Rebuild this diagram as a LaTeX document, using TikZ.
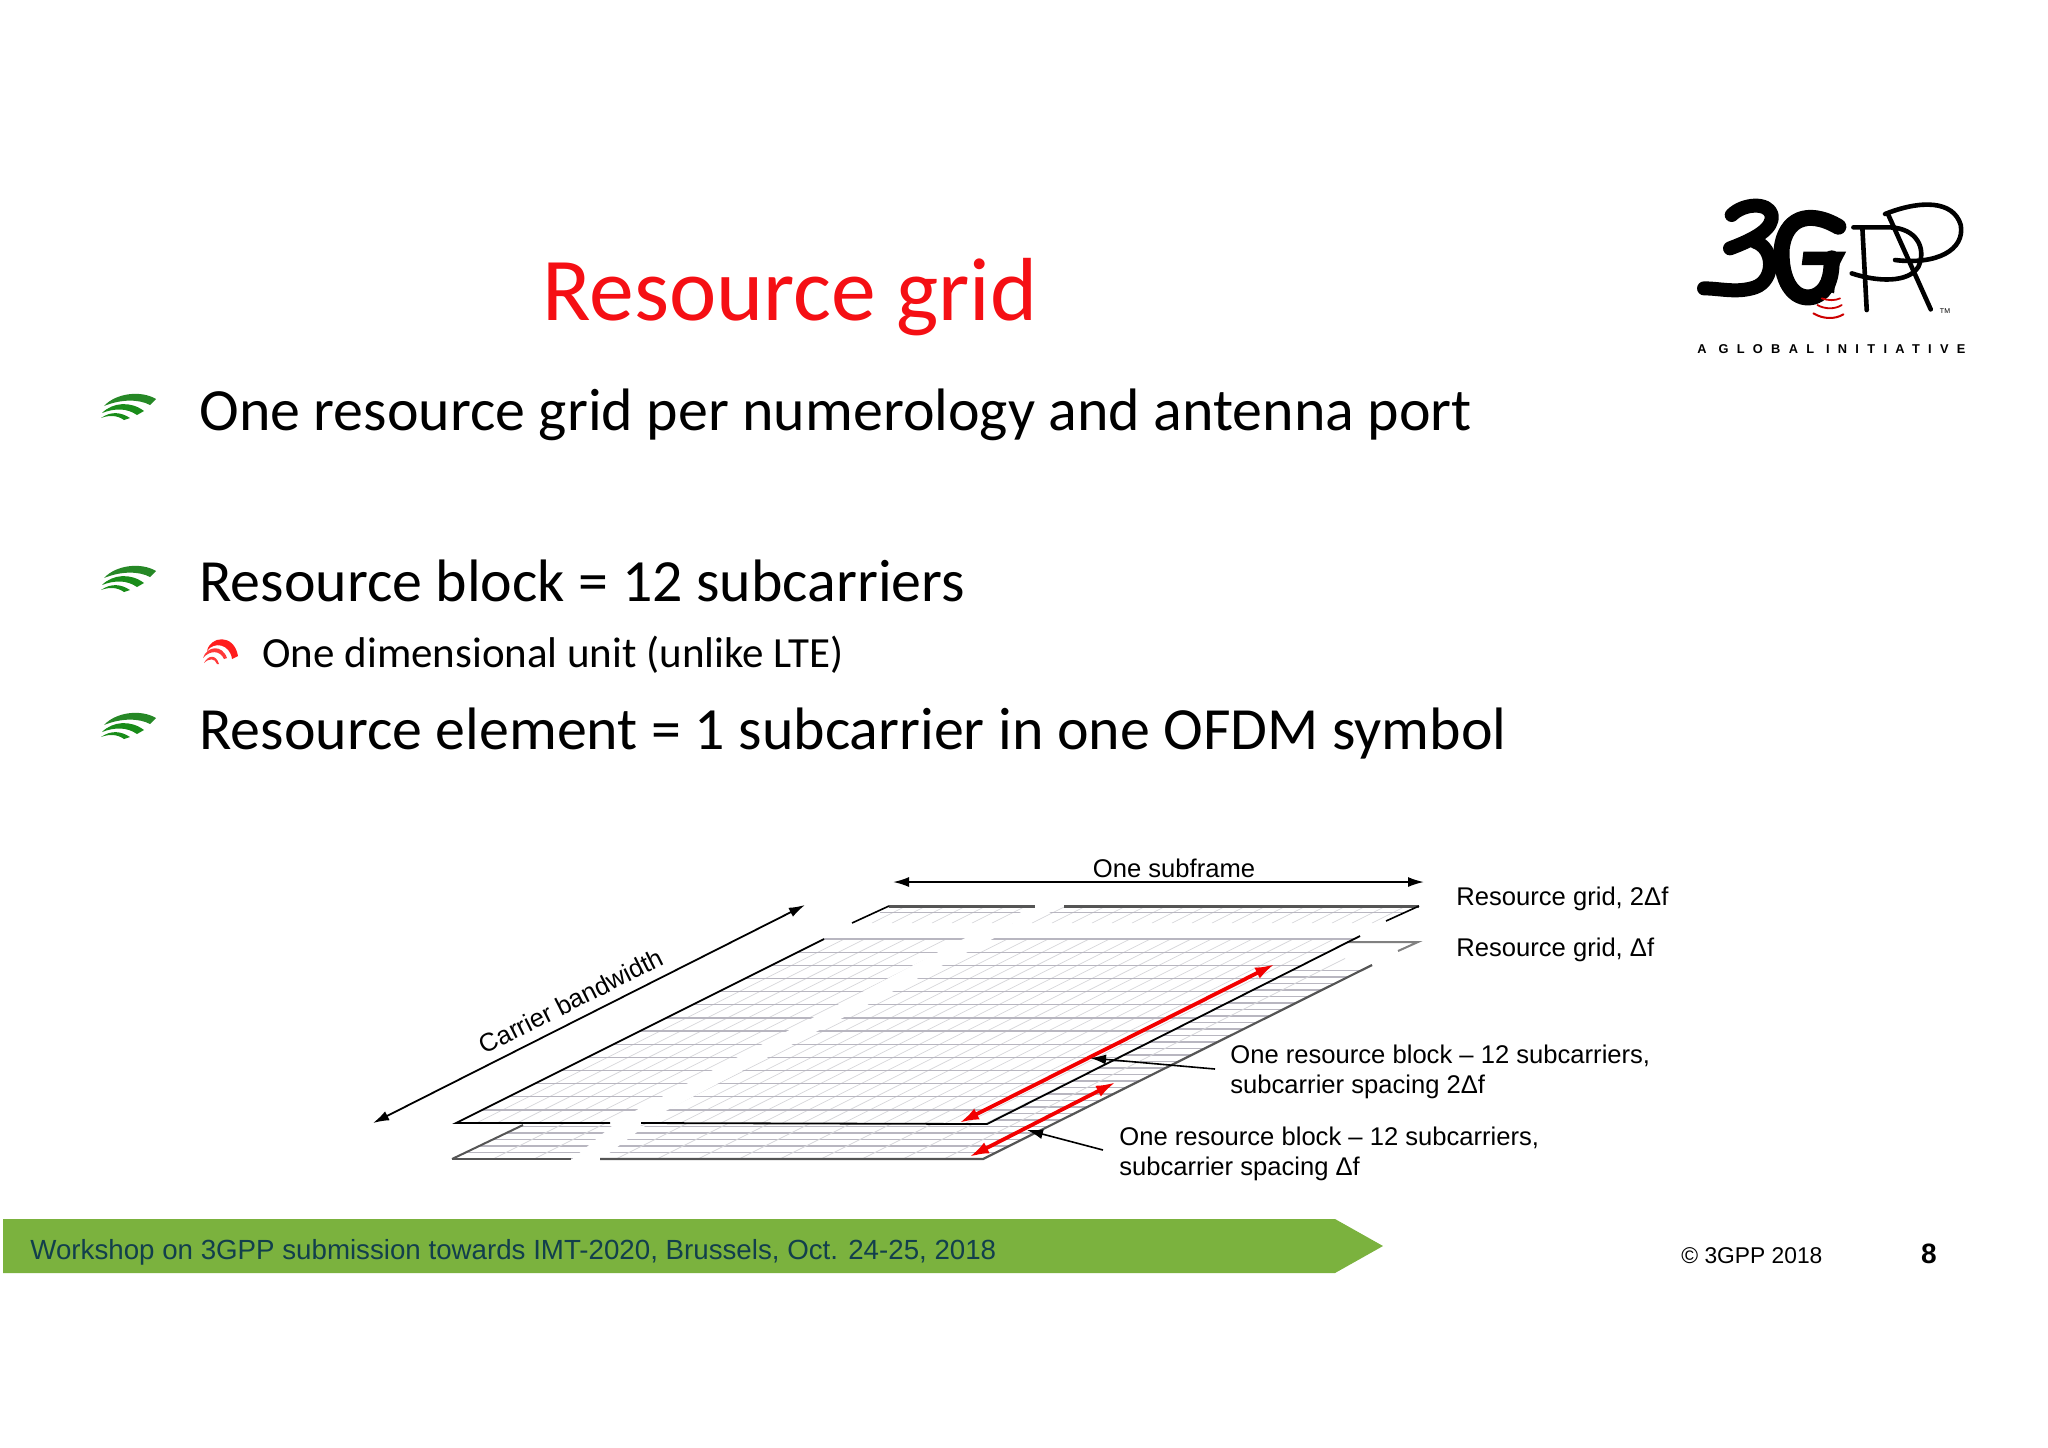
\documentclass[tikz,border=0pt]{standalone}
\usepackage{fontspec}
\usepackage{color}
\setmainfont{Carlito}
\newfontfamily\arialfont{Liberation Sans}
\newfontfamily\logofont[LetterSpace=65]{Liberation Sans Bold}
\usetikzlibrary{calc,arrows.meta}
\definecolor{barGreen}{HTML}{7BB23E}
\definecolor{barText}{HTML}{123F4C}
\definecolor{slideRed}{HTML}{F50F14}
\definecolor{gridRow}{HTML}{B8B6C0}
\definecolor{gridSlant}{HTML}{D6D6DA}
\definecolor{edgeGray}{HTML}{555555}
\tikzset{
  bodytext/.style={anchor=base west,inner sep=0pt,font=\fontsize{29.95}{32}\selectfont},
  labeltext/.style={inner sep=0pt,align=left,font=\fontsize{12.8}{15.2}\selectfont\arialfont},
  blacktips/.style={{Latex[length=8pt,width=5pt]}-{Latex[length=8pt,width=5pt]},line width=0.9pt},
  redtips/.style={{Latex[length=10pt,width=6pt]}-{Latex[length=10pt,width=6pt]},red!95!black,line width=1.9pt},
  pointtip/.style={-{Latex[length=8pt,width=5pt]},line width=0.8pt},
  greenmark/.pic={
    \fill[green!45!black!85] (3,13) .. controls (15,0) and (40,-3) .. (55,6) -- (49,12) .. controls (38,6) and (20,6) .. (3,13);
    \fill[green!50!black!90] (1,20) .. controls (12,9) and (30,8) .. (43,18) -- (36,22) .. controls (26,15) and (14,15) .. (1,20);
    \fill[green!50!black!90] (0,25) .. controls (10,18) and (20,19) .. (29,25) -- (23,27) .. controls (16,22) and (8,22) .. (0,25);
  },
  redmark/.pic={
    \fill[red!85!pink] (5,13) .. controls (8,-2) and (32,-5) .. (36,18) -- (30,21) .. controls (28,6) and (12,3) .. (5,13);
    \fill[red!70!pink] (1,20) .. controls (5,8) and (20,6) .. (25,20) -- (22,21) .. controls (18,12) and (8,12) .. (1,20);
    \fill[red!70!pink] (2,25) .. controls (6,17) and (14,16) .. (17,26) -- (15,26) .. controls (13,20) and (7,20) .. (2,25);
  }
}
\begin{document}
\begin{tikzpicture}[x=0.5pt,y=-0.5pt]
                 \useasboundingbox (0,0) rectangle (2048,1447);
                 \node[anchor=base west,inner sep=0pt,text=slideRed,font=\fontsize{44.8}{48}\selectfont](title)at(542,320){Resource grid};
                 \node[bodytext](first)at(199,430){One resource grid per numerology and antenna port};
                 \node[bodytext](second)at(199,601){Resource block = 12 subcarriers};
                 \node[bodytext,font=\fontsize{21.5}{24}\selectfont](sub)at(262,667){One dimensional unit (unlike LTE)};
                 \node[bodytext](third)at(199,749){Resource element = 1 subcarrier in one OFDM symbol};
                 \pic at (101,393) {greenmark};
                 \pic at (101,565) {greenmark};
                 \pic at (101,712) {greenmark};
                 \pic at (202,638) {redmark};
                 % logo
                 \begin{scope}[shift={(1660,170)},x=0.1667pt,y=-0.1667pt,line cap=round,line join=round]
                   \draw[line width=7pt] (215,135) .. controls (250,100) and (325,95) .. (335,135) .. controls (340,175) and (290,205) .. (210,235);
                   \draw[line width=7pt] (285,215) .. controls (345,235) and (345,330) .. (285,352) .. controls (230,370) and (180,355) .. (132,355);
                   \draw[line width=8pt] (535,170) .. controls (440,115) and (375,150) .. (365,235) .. controls (360,330) and (400,395) .. (460,380) .. controls (505,365) and (515,320) .. (515,265);
                   \fill (430,245) -- (558,245) -- (530,300) -- (522,370) -- (508,365) -- (500,285) -- (425,285) -- cycle;
                   \draw[red!80!black,line width=0.9pt] (485,385) .. controls (505,392) and (525,392) .. (540,385);
                   \draw[red!80!black,line width=0.9pt] (472,405) .. controls (495,418) and (525,418) .. (545,405);
                   \draw[red!80!black,line width=1pt] (460,430) .. controls (490,448) and (525,448) .. (550,433);
                   \draw[line width=2.3pt] (580,172) -- (690,172) .. controls (770,175) and (800,235) .. (775,290) .. controls (745,340) and (650,335) .. (575,310);
                   \draw[line width=2.3pt] (607,175) -- (620,420);
                   \draw[line width=2.3pt] (675,132) .. controls (780,90) and (880,90) .. (902,165) .. controls (915,240) and (830,285) .. (705,270);
                   \draw[line width=2.3pt] (685,135) -- (812,418);
                 \end{scope}
                 \node[inner sep=0pt,font=\fontsize{3.5}{4}\selectfont\arialfont](tm)at(1945,311){TM};
                 \node[anchor=base west,inner sep=0pt,font=\fontsize{6.4}{7}\selectfont\logofont](tagline)at(1697,353){A GLOBAL INITIATIVE};
                 % lower grid
                 \begin{scope}
                   \clip (452,1159) -- (983,1159) -- (1372,965) -- (1345,965) -- (1345,936) -- (824,936) -- (523,1125) -- cycle;
                   \foreach \r in {0,...,29}{
                     \pgfmathsetmacro{\yy}{1159-6.5*\r}
                     \draw[gridRow,line width=0.55pt] ({452+2*(1159-\yy)},\yy) -- ({983+2*(1159-\yy)},\yy);
                   }
                   \foreach \c in {0,...,13}{
                     \draw[gridSlant,line width=0.4pt] ({452+41*\c},1159) -- ({452+41*\c+434},942);
                   }
                 \end{scope}
                 \fill[white] (571,1160) -- (600,1160) -- (645,1126) -- (612,1126) -- cycle;
                 % upper grid
                 \fill[white] (456,1123) -- (987,1124) -- (1360,936) -- (824,939) -- cycle;
                 \begin{scope}
                   \clip (456,1124) -- (987,1124) -- (1360,937) -- (824,937) -- cycle;
                   \foreach \c in {0,...,26}{
                     \draw[gridSlant,line width=0.35pt] ({456+20.4*\c},1123) -- ({824+20.4*\c},939);
                   }
                   \foreach \r in {0,...,13}{
                     \pgfmathsetmacro{\yy}{939+13.15*\r}
                     \draw[gridRow,line width=0.65pt] ({824-2*(\yy-939)},\yy) -- ({1360-2*(\yy-939)},\yy);
                   }
                 \end{scope}
                 \fill[white] (610,1124) -- (641,1124) -- (998,936) -- (969,936) -- cycle;
                 % top grid
                 \begin{scope}
                   \clip (852,923) -- (889,905) -- (1419,905) -- (1386,923) -- cycle;
                   \foreach \c in {0,...,26}{
                     \draw[gridSlant,line width=0.35pt] ({852+20*\c},923) -- ({888+20*\c},905);
                   }
                   \draw[gridRow,line width=0.5pt] (880,912) -- (1405,912);
                 \end{scope}
                 \fill[white] (1035,905) -- (1064,905) -- (1030,923) -- (1000,923) -- cycle;
                 % edges
                 \draw[edgeGray,line width=1.1pt] (452,1159) -- (571,1159);
                 \draw[edgeGray,line width=1.1pt] (600,1159) -- (983,1159) -- (1372,965);
                 \draw[edgeGray,line width=1pt] (452,1159) -- (523,1125);
                 \draw[gray,line width=1pt] (1347,942) -- (1418,942) -- (1398,951);
                 \draw[black,line width=0.9pt] (610,1123) -- (456,1123) -- (824,939);
                 \draw[black,line width=0.9pt] (641,1123) -- (987,1124) -- (1360,936);
                 \draw[edgeGray,line width=1.5pt] (889,906) -- (1035,906);
                 \draw[edgeGray,line width=1.5pt] (1064,906) -- (1419,906);
                 \draw[black,line width=0.8pt] (852,923) -- (889,906);
                 \draw[black,line width=0.8pt] (1419,906) -- (1386,921);
                 % arrows and labels
                 \coordinate (bwlow) at (373,1123);
                 \coordinate (bwhigh) at (805,905);
                 \coordinate (sfleft) at (893,882);
                 \coordinate (sfright) at (1424,882);
                 \coordinate (wideback) at (1275,964);
                 \coordinate (widefront) at (959,1123);
                 \coordinate (narrowback) at (1116,1082);
                 \coordinate (narrowfront) at (969,1157);
                 \coordinate (widepoint) at (1090,1058);
                 \coordinate (narrowpoint) at (1027,1130);
                 \draw[blacktips] (bwlow) -- (bwhigh);
                 \draw[blacktips] (sfleft) -- (sfright);
                 \draw[redtips] (widefront) -- (wideback);
                 \draw[redtips] (narrowfront) -- (narrowback);
                 \node[labeltext,rotate=26.7](bw)at(571,1001){Carrier bandwidth};
                 \node[labeltext,anchor=base](sf)at(1174,877){One subframe};
                 \node[labeltext,anchor=base west](rgtwo)at(1456,905){Resource grid, 2Δf};
                 \node[labeltext,anchor=base west](rgone)at(1456,956){Resource grid, Δf};
                 \node[labeltext,anchor=west](blocktwo)at(1230,1072){One resource block – 12 subcarriers,\\subcarrier spacing 2Δf};
                 \node[labeltext,anchor=west](blockone)at(1119,1154){One resource block – 12 subcarriers,\\subcarrier spacing Δf};
                 \draw[pointtip] ($(blocktwo.west)+(-15,-3)$) -- (widepoint);
                 \draw[pointtip] ($(blockone.west)+(-16,-4)$) -- (narrowpoint);
                 % footer
                 \fill[barGreen] (3,1219) -- (1335,1219) -- (1383,1246) -- (1335,1273) -- (3,1273) -- cycle;
                 \node[anchor=base west,inner sep=0pt,text=barText,font=\fontsize{13.85}{16}\selectfont\arialfont](workshop)at(30,1259){Workshop on 3GPP submission towards IMT-2020, Brussels, Oct. 24-25, 2018};
                 \node[anchor=base west,inner sep=0pt,font=\fontsize{11.4}{14}\selectfont\arialfont](copy)at(1681,1263){© 3GPP 2018};
                 \node[anchor=base,inner sep=0pt,font=\fontsize{14}{16}\selectfont\arialfont\bfseries](page)at(1929,1263){8};
               \end{tikzpicture}
\end{document}
